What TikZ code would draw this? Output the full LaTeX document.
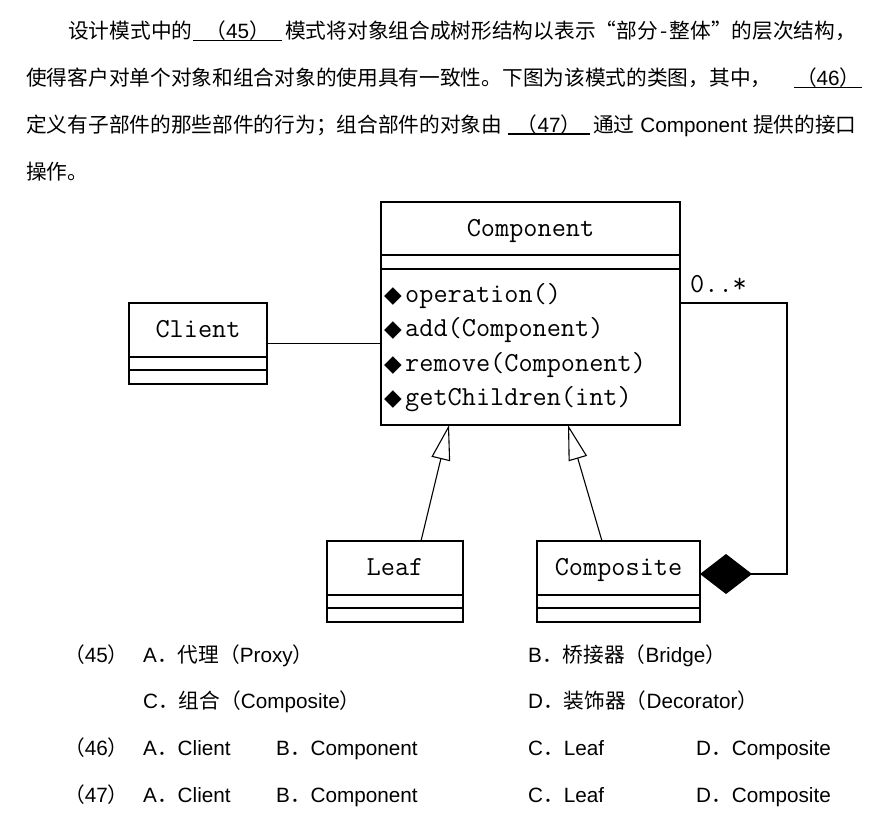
\documentclass[tikz,border=0pt]{standalone}
\usepackage{fontspec}
\setmainfont{Liberation Sans}
\newfontfamily\cjkfont{Noto Sans CJK SC}
\newfontfamily\umlfont{Latin Modern Mono}
\newfontfamily\symfont{DejaVu Sans}
\usetikzlibrary{arrows.meta}
\usetikzlibrary{positioning}
\newcommand{\zh}[1]{{\cjkfont #1}}
\newcommand{\opmark}{\makebox[21pt][l]{\symfont\fontsize{23}{23}\selectfont ◆}}
\tikzset{
  txt/.style={anchor=base west, inner sep=0pt, font=\fontsize{20.7}{24}\selectfont},
  blank/.style={txt, minimum width=#1},
  uline/.style={line width=1.5pt},
  umlbox/.style={draw, line width=1.8pt, inner sep=0pt, outer sep=0pt, anchor=north west},
  umlline/.style={line width=1.8pt},
  umltxt/.style={inner sep=0pt, font=\umlfont\fontsize{27.5}{32}\selectfont},
  assoc/.style={line width=1.6pt},
  inherit/.style={line width=1.1pt, -{Triangle[open, length=35pt, width=19pt]}},
  aggr/.style={line width=1.8pt, line join=miter, -{Diamond[length=52pt, width=40pt]}}
}

\begin{document}
\begin{tikzpicture}[x=1pt,y=-1pt]
\useasboundingbox (0,0) rectangle (890,816);
\fill[white] (0,0) rectangle (890,816);

% question text
\node[txt] (l1a) at (68,38.5) {\zh{设计模式中的}};
\node[blank=89pt] (b45) at (193,38.5) {\zh{（}45\zh{）}};
\node[txt] (l1b) at (285,38.5) {\zh{模式将对象组合成树形结构以表示\makebox[20.7pt][r]{“}部分\makebox[12pt]{-}整体\makebox[20.7pt][l]{”}的层次结构，}};
\node[txt] (l2a) at (26,85.5) {\zh{使得客户对单个对象和组合对象的使用具有一致性。下图为该模式的类图，其中，}};
\node[blank=68pt] (b46) at (794,85.5) {\zh{（}46\zh{）}};
\node[txt] (l3a) at (26,132) {\zh{定义有子部件的那些部件的行为；组合部件的对象由}};
\node[blank=82pt] (b47) at (508,132) {\zh{（}47\zh{）}};
\node[txt] (l3b) at (593,132) {\zh{通过} Component \zh{提供的接口}};
\node[txt] (l4) at (26,179) {\zh{操作。}};
\foreach \b in {b45,b46,b47}
\draw[uline] ([yshift=-2pt]\b.base west) -- ([yshift=-2pt]\b.base east);

% Component class
\node[umlbox, minimum width=299pt, minimum height=223pt] (comp) at (381,202) {};
\node[umltxt, anchor=base] (compname) at ([yshift=-34pt]comp.north) {Component};
\draw[umlline] ([yshift=-53pt]comp.north west) -- ([yshift=-53pt]comp.north east);
\draw[umlline] ([yshift=-67pt]comp.north west) -- ([yshift=-67pt]comp.north east);
\foreach \m [count=\i] in {operation(), add(Component), remove(Component), getChildren(int)}
\node[umltxt, anchor=base west] (op\i) at ({384},{267.5+34.5*\i}) {\opmark\m};

% small classes
\foreach \n/\x/\y/\w/\t in {client/129/303/138/Client, leaf/327/541/136/Leaf, composite/537/541/163/Composite}{
  \node[umlbox, minimum width=\w pt, minimum height=81pt] (\n) at (\x,\y) {};
  \node[umltxt, anchor=base] (\n name) at ([yshift=-34pt]\n.north) {\t};
  \draw[umlline] ([yshift=-54pt]\n.north west) -- ([yshift=-54pt]\n.north east);
  \draw[umlline] ([yshift=-67pt]\n.north west) -- ([yshift=-67pt]\n.north east);
}

% relations
\draw[assoc] (client.east) -- (client.east -| comp.west);
\draw[inherit] ([xshift=26pt]leaf.north) -- ([xshift=-81.5pt]comp.south);
\draw[inherit] ([xshift=-16.5pt]composite.north) -- ([xshift=37.5pt]comp.south);
\coordinate (corner) at (787,303);
\draw[aggr] ([yshift=10.5pt]comp.east) -- (corner) |- ([yshift=7.5pt]composite.east);
\node[umltxt, anchor=base west] (mult) at (690,292) {0..*};

% answer options
\node[txt] (q45) at (64,662.5) {\zh{（}45\zh{）}};
\node[txt] (q45-a) at (143,662.5) {A\zh{．代理（}Proxy\zh{）}};
\node[txt] (q45-b) at (528,662.5) {B\zh{．桥接器（}Bridge\zh{）}};
\node[txt] (q45-c) at (143,708.5) {C\zh{．组合（}Composite\zh{）}};
\node[txt] (q45-d) at (528,708.5) {D\zh{．装饰器（}Decorator\zh{）}};
\foreach \q/\y in {46/755.5, 47/802.5}{
  \node[txt] (q\q) at (64,\y) {\zh{（}\q\zh{）}};
  \node[txt] (q\q-a) at (143,\y) {A\zh{．}Client};
  \node[txt] (q\q-b) at (276,\y) {B\zh{．}Component};
  \node[txt] (q\q-c) at (528,\y) {C\zh{．}Leaf};
  \node[txt] (q\q-d) at (696,\y) {D\zh{．}Composite};
}
\end{tikzpicture}
\end{document}
